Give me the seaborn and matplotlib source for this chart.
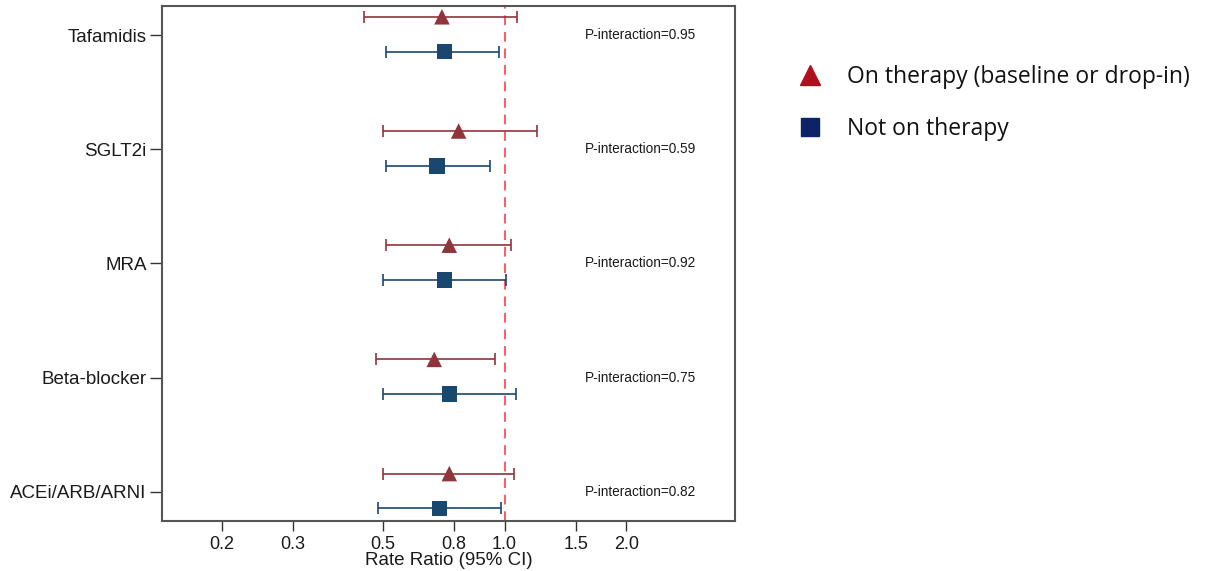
import pandas as pd
import numpy as np
import matplotlib.pyplot as plt
from matplotlib.lines import Line2D
import seaborn as sns

# values (rate ratio with 95% CI)
drugs = ['Tafamidis', 'SGLT2i', 'MRA', 'Beta-blocker', 'ACEi/ARB/ARNI']
p_interaction = ['0.95', '0.59', '0.92', '0.75', '0.82']

on_rr = [0.70, 0.77, 0.73, 0.67, 0.73]
on_lo = [0.45, 0.50, 0.51, 0.48, 0.50]
on_hi = [1.075, 1.20, 1.04, 0.945, 1.055]

off_rr = [0.71, 0.68, 0.71, 0.73, 0.69]
off_lo = [0.51, 0.51, 0.50, 0.50, 0.485]
off_hi = [0.97, 0.92, 1.006, 1.07, 0.98]

tick_vals = [0.2, 0.3, 0.5, 0.75, 1.0, 1.5, 2.0]
tick_labels = ['0.2', '0.3', '0.5', '0.8', '1.0', '1.5', '2.0']

red = '#90353B'
navy = '#1A476F'

# long table for seaborn
rows = []
for i, d in enumerate(drugs):
    rows.append({'drug': d, 'y': i - 0.16, 'group': 'on', 'rr': on_rr[i], 'lo': on_lo[i], 'hi': on_hi[i]})
    rows.append({'drug': d, 'y': i + 0.145, 'group': 'off', 'rr': off_rr[i], 'lo': off_lo[i], 'hi': off_hi[i]})
df = pd.DataFrame(rows)

sns.set_style('ticks')
plt.rcParams['font.family'] = ['Liberation Sans', 'DejaVu Sans']

fig = plt.figure(figsize=(12.07, 5.71), dpi=100)
ax = fig.add_axes([0.1342, 0.0876, 0.4748, 0.9024])

# CI bars
for grp, col in [('on', red), ('off', navy)]:
    sub = df[df.group == grp]
    ax.errorbar(sub.rr, sub.y, xerr=[sub.rr - sub.lo, sub.hi - sub.rr], fmt='none',
                ecolor=col, elinewidth=1.2, capsize=4.5, capthick=1.2, zorder=2)

ax.axvline(1.0, color='#FF5A62', lw=1.4, ls=(0, (5, 3.5)), zorder=1)

sns.scatterplot(data=df, x='rr', y='y', hue='group', style='group',
                palette={'on': red, 'off': navy}, markers={'on': '^', 'off': 's'},
                s=125, edgecolor='none', legend=False, ax=ax, zorder=3)

ax.set_xscale('log')
ax.set_xlim(0.142, 3.72)
ax.set_ylim(4.255, -0.257)
ax.set_xticks(tick_vals)
ax.set_xticklabels(tick_labels)
ax.minorticks_off()
ax.set_yticks(range(len(drugs)))
ax.set_yticklabels(drugs)
ax.tick_params(axis='both', colors='#333333', labelcolor='#1a1a1a', width=1.0)
ax.tick_params(axis='y', length=9, pad=2, labelsize=13.5)
ax.tick_params(axis='x', length=7, pad=4, labelsize=13)
ax.set_xlabel('Rate Ratio (95% CI)', fontsize=13.5, color='#1a1a1a', labelpad=-1)
ax.set_ylabel('')
for sp in ax.spines.values():
    sp.set_color('#555555')
    sp.set_linewidth(1.5)

for i, p in enumerate(p_interaction):
    ax.text(0.835, i, 'P-interaction=' + p, transform=ax.get_yaxis_transform(),
            ha='center', va='center', fontsize=9.8, color='#1a1a1a')

# legend to the right of the plot
handles = [Line2D([], [], marker='^', ls='none', color='#B0101E', markersize=15),
           Line2D([], [], marker='s', ls='none', color='#0C2466', markersize=13)]
leg = fig.legend(handles, ['On therapy (baseline or drop-in)', 'Not on therapy'],
                 loc='upper left', bbox_to_anchor=(0.643, 0.923), frameon=False,
                 prop={'family': 'Open Sans', 'size': 16.5}, handletextpad=1.0,
                 labelspacing=1.22, handlelength=1.2, labelcolor='#111111')

fig.savefig('out.png', dpi=100)
